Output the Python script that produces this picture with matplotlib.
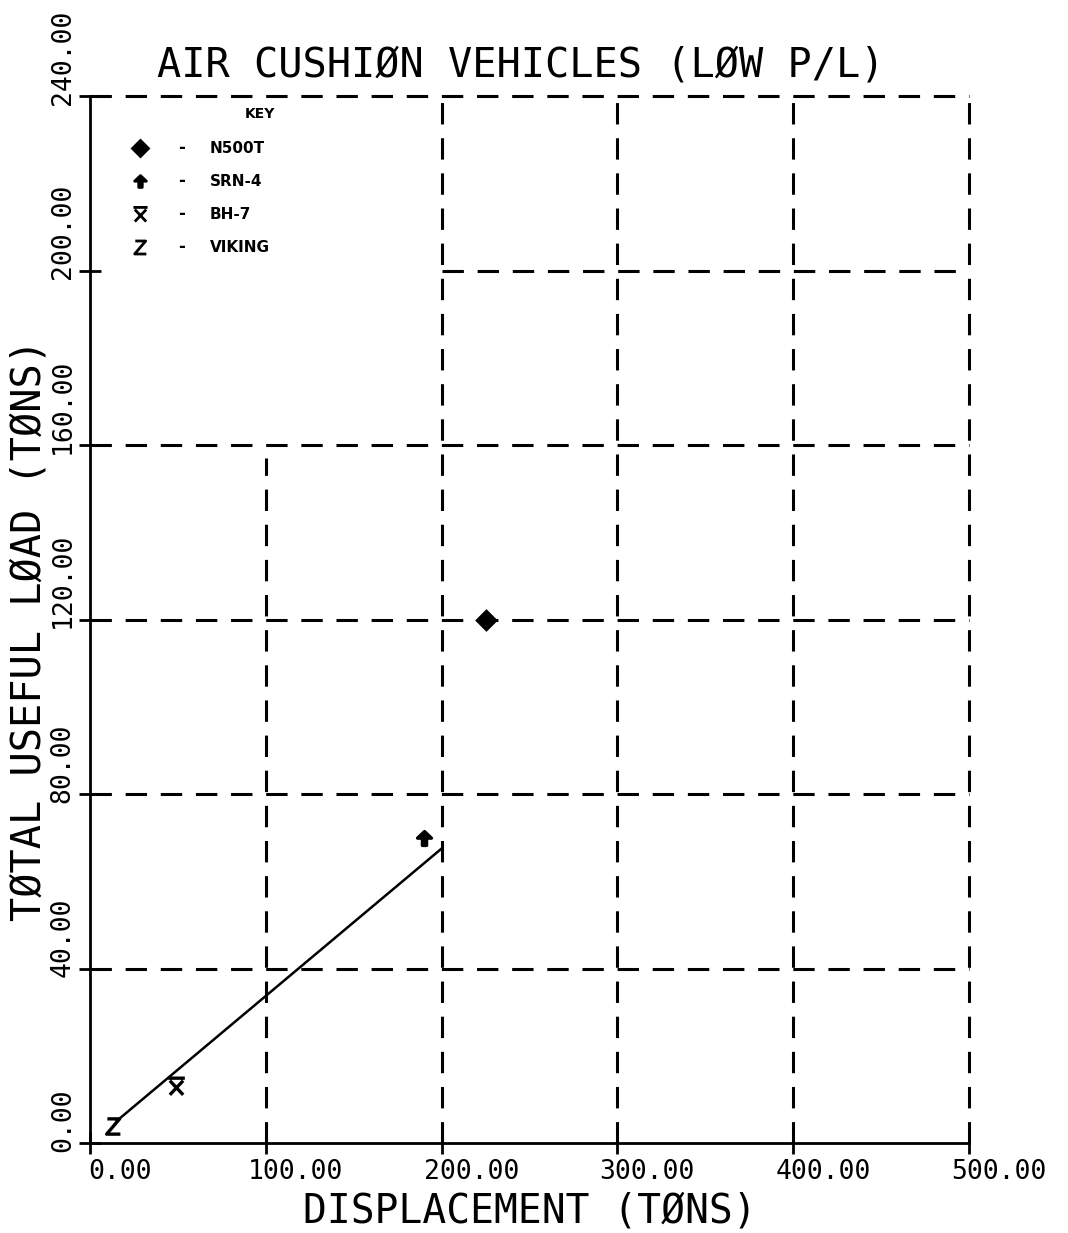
import numpy as np
import matplotlib.pyplot as plt
from matplotlib.path import Path

# vehicles shown in the key
names = ['N500T', 'SRN-4', 'BH-7', 'VIKING']
displacement = [225, 190, 49, 13]      # tons
useful_load = [120, 70, 13, 4]         # tons

# trend line drawn through the small craft
trend_x = [15, 200]
trend_y = [5, 67.5]

x_ticks = [0, 100, 200, 300, 400, 500]
y_ticks = [0, 40, 80, 120, 160, 200, 240]

# dashed grid pieces (the key box cuts some of them short)
h_grid_y = [40, 80, 120, 160, 200, 240]
h_grid_start = [0, 0, 0, 0, 200, 0]
v_grid_x = [100, 200, 300, 400, 500]
v_grid_top = [157, 240, 240, 240, 240]

# marker shapes
arrow = Path([(0, 1), (1, 0.05), (0.3, 0.05), (0.3, -1), (-0.3, -1),
              (-0.3, 0.05), (-1, 0.05), (0, 1)],
             [Path.MOVETO] + [Path.LINETO] * 6 + [Path.CLOSEPOLY])
xbar = Path([(-1, 1), (1, 1), (-0.8, 0.7), (0.8, -1), (0.8, 0.7), (-0.8, -1)],
            [Path.MOVETO, Path.LINETO] * 3)
zed = Path([(-0.8, 1), (0.8, 1), (-0.9, -1), (0.9, -1)],
           [Path.MOVETO, Path.LINETO, Path.LINETO, Path.LINETO])
markers = ['D', arrow, xbar, zed]
msizes = [9, 10, 12, 11]
filled = [True, True, False, False]

mono = 'DejaVu Sans Mono'

fig = plt.figure(figsize=(10.68, 12.33), dpi=100)
ax = fig.add_axes([0.0843, 0.0730, 0.8230, 0.8491])

dash = (0, (7, 4.5))
for y, x0 in zip(h_grid_y, h_grid_start):
    ax.plot([x0, 500], [y, y], color='black', lw=2.2, ls=dash, clip_on=False)
for x, top in zip(v_grid_x, v_grid_top):
    ax.plot([x, x], [0, top], color='black', lw=2.2, ls=dash, clip_on=False)

ax.plot(trend_x, trend_y, color='black', lw=1.8)

for i in range(len(names)):
    ax.plot(displacement[i], useful_load[i], marker=markers[i],
            ms=msizes[i], color='black', mew=2.4,
            mfc='black' if filled[i] else 'none', ls='none', clip_on=False)

ax.set_xlim(0, 500)
ax.set_ylim(0, 240)
for s in ['top', 'right']:
    ax.spines[s].set_visible(False)
for s in ['left', 'bottom']:
    ax.spines[s].set_linewidth(2)
ax.set_xticks(x_ticks)
ax.set_yticks(y_ticks)
ax.tick_params(direction='inout', length=16, width=2, labelleft=False,
               labelbottom=False)

for v in x_ticks:
    ax.text(v + 17, -0.028, '%.2f' % v, transform=ax.get_xaxis_transform(),
            ha='center', va='center', fontsize=19, family=mono)
for v in y_ticks:
    ax.text(-0.031, v - 2, '%.2f' % v, transform=ax.get_yaxis_transform(),
            ha='center', va='bottom', rotation=90, fontsize=19, family=mono)

fig.text(521 / 1068, 1 - 65 / 1233, 'AIR CUSHIØN VEHICLES (LØW P/L)',
         ha='center', va='center', fontsize=29, family=mono)
fig.text(530 / 1068, 1 - 1211 / 1233, 'DISPLACEMENT (TØNS)',
         ha='center', va='center', fontsize=28.5, family=mono)
fig.text(30 / 1068, 1 - 630 / 1233, 'TØTAL USEFUL LØAD (TØNS)',
         ha='center', va='center', rotation=90, fontsize=29, family=mono)

# key
ax.text(0.193, 0.983, 'KEY', transform=ax.transAxes, ha='center',
        va='center', fontsize=10, fontweight='bold')
for i in range(len(names)):
    yy = 0.950 - i * 0.0315
    ax.plot(0.057, yy, marker=markers[i], ms=msizes[i] * 0.85, color='black',
            mew=2, mfc='black' if filled[i] else 'none',
            transform=ax.transAxes, clip_on=False)
    ax.text(0.104, yy, '-', transform=ax.transAxes, ha='center', va='center',
            fontsize=12, fontweight='bold')
    ax.text(0.136, yy, names[i], transform=ax.transAxes, ha='left',
            va='center', fontsize=11, fontweight='bold')

fig.savefig('out.png', dpi=100)
